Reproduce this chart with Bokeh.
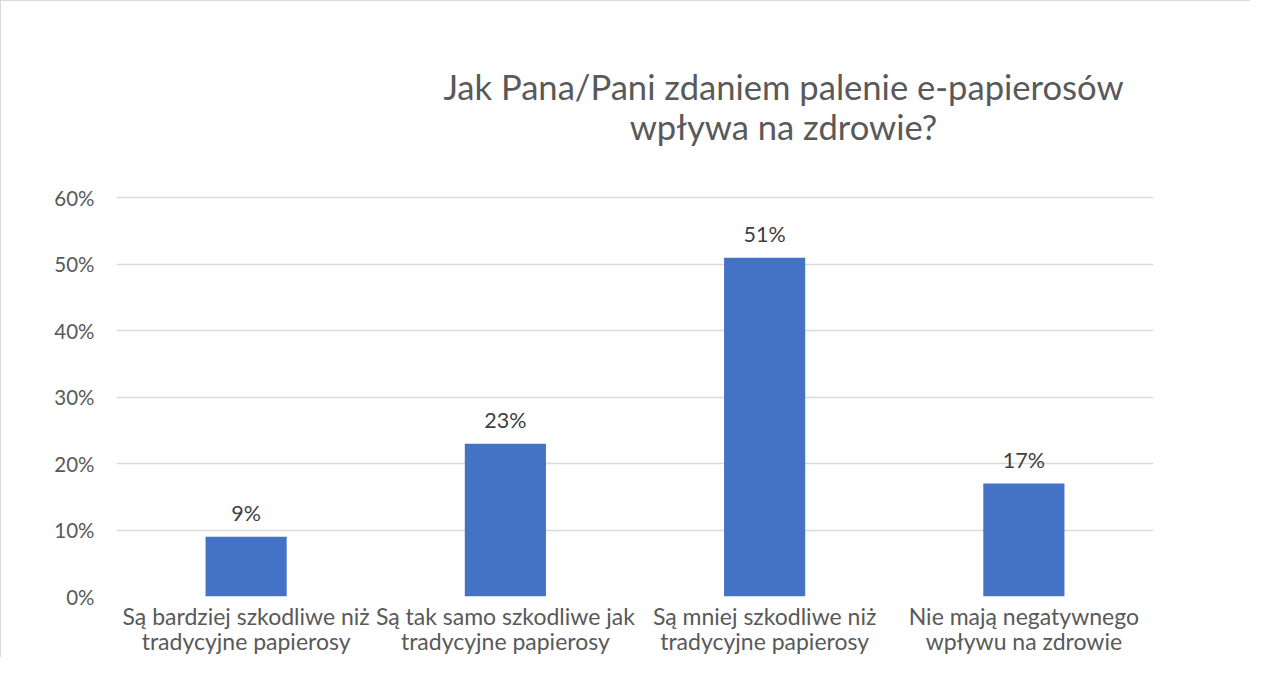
from bokeh.plotting import figure
from bokeh.models import ColumnDataSource, Label, LabelSet, FixedTicker, NumeralTickFormatter, Range1d
from bokeh.core.properties import value
from bokeh.embed import file_html
from bokeh.resources import INLINE

categories = [
    "Są bardziej szkodliwe niż\ntradycyjne papierosy",
    "Są tak samo szkodliwe jak\ntradycyjne papierosy",
    "Są mniej szkodliwe niż\ntradycyjne papierosy",
    "Nie mają negatywnego\nwpływu na zdrowie",
]
values = [0.09, 0.23, 0.51, 0.17]
value_labels = ["9%", "23%", "51%", "17%"]
y_ticks = [0.0, 0.1, 0.2, 0.3, 0.4, 0.5, 0.6]
title_lines = ["Jak Pana/Pani zdaniem palenie e-papierosów", "wpływa na zdrowie?"]

FONT = "Lato"

src = ColumnDataSource(dict(cat=categories, val=values, lab=value_labels))

# the plot frame reaches up to the top of the chart so the title can sit inside it
p = figure(
    x_range=categories,
    y_range=Range1d(0, 0.8955),
    width=1250, height=657,
    output_backend="svg", toolbar_location=None,
    min_border_left=115, min_border_right=98,
    min_border_top=0, min_border_bottom=54,
)
p.styles = {"border-left": "1px solid #d9d9d9", "border-top": "1px solid #d9d9d9"}
p.outline_line_color = None
p.background_fill_color = "white"
p.border_fill_color = "white"

p.vbar(x="cat", top="val", width=0.313, source=src, color="#4472C4", line_color=None)

p.xgrid.grid_line_color = None
p.ygrid.grid_line_color = "#d9d9d9"
p.ygrid.grid_line_width = 1.3

p.yaxis.ticker = FixedTicker(ticks=y_ticks)
p.yaxis.formatter = NumeralTickFormatter(format="0%")
for ax in (p.xaxis[0], p.yaxis[0]):
    ax.axis_line_color = None
    ax.major_tick_line_color = None
    ax.minor_tick_line_color = None
    ax.major_tick_out = 0
    ax.major_label_text_font = FONT
    ax.major_label_text_color = "#595959"
p.yaxis.major_label_text_font_size = "20.5px"
p.xaxis.major_label_text_font_size = "23px"
p.yaxis.major_label_standoff = 22
p.xaxis.major_label_standoff = 5
p.xaxis.major_label_text_line_height = 0.92

p.add_layout(LabelSet(x="cat", y="val", text="lab", y_offset=24, source=src,
                      text_align="center", text_baseline="middle",
                      text_font=value(FONT), text_font_size="21.5px", text_color="#404040"))

for i, t in enumerate(title_lines):
    p.add_layout(Label(x=667, x_units="screen", y=0.768 - 0.060 * i, text=t,
                       text_align="center", text_baseline="middle",
                       text_font=FONT, text_font_size="34.6px", text_color="#595959"))

open("out.html", "w").write(file_html(p, INLINE))
